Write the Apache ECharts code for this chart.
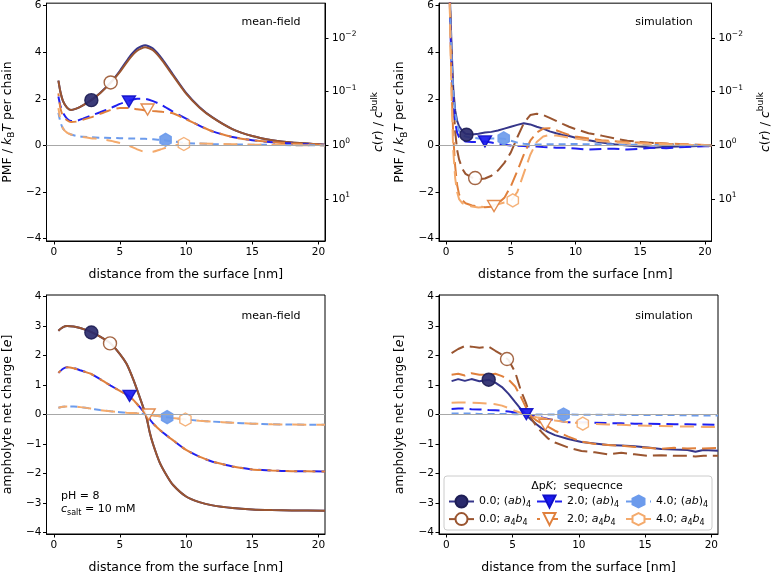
<!DOCTYPE html>
<html>
<head>
<meta charset="utf-8">
<script src="https://cdn.jsdelivr.net/npm/echarts@6/dist/echarts.min.js"></script>
<style>
html, body { margin: 0; padding: 0; background: #fff; }
#chart { width: 773px; height: 575px; }
</style>
</head>
<body>
<div id="chart"></div>
<script>
const FONT = 'DejaVu Sans';

const seriesNames = ['0.0; (ab)4', '0.0; a4b4', '2.0; (ab)4', '2.0; a4b4', '4.0; (ab)4', '4.0; a4b4'];
const xTicks = [0, 5, 10, 15, 20];
const pmfTicks = [-4, -2, 0, 2, 4, 6];
const chargeTicks = [-4, -3, -2, -1, 0, 1, 2, 3, 4];
const ratioTicks = [1e-2, 1e-1, 1, 10];

// PMF, mean-field
const pmfMfX = [0.35, 0.5, 0.7, 1.0, 1.3, 1.7, 2.2, 2.8, 3.5, 4.3, 5.0, 5.7, 6.3, 6.9, 7.5, 8.2, 9.0, 10.0, 11.0, 12.0, 13.5, 15.0, 16.5, 18.0, 20.5];
const pmfMf0ab = [2.78, 2.3, 1.9, 1.62, 1.52, 1.58, 1.72, 1.93, 2.25, 2.7, 3.2, 3.78, 4.15, 4.3, 4.15, 3.7, 3.05, 2.25, 1.65, 1.2, 0.7, 0.4, 0.22, 0.12, 0.03];
const pmfMf0a4b4 = [2.78, 2.3, 1.9, 1.62, 1.52, 1.58, 1.72, 1.93, 2.24, 2.68, 3.15, 3.7, 4.06, 4.21, 4.08, 3.64, 3.0, 2.22, 1.63, 1.19, 0.7, 0.4, 0.22, 0.12, 0.03];
const pmfMf2ab = [2.1, 1.7, 1.4, 1.15, 1.05, 1.05, 1.15, 1.28, 1.42, 1.6, 1.78, 1.92, 2.0, 2.0, 1.9, 1.72, 1.45, 1.15, 0.85, 0.6, 0.36, 0.22, 0.14, 0.08, 0.02];
const pmfMf2a4b4 = [2.23, 1.6, 1.25, 1.08, 1.0, 1.02, 1.1, 1.2, 1.35, 1.52, 1.6, 1.6, 1.55, 1.5, 1.47, 1.44, 1.38, 1.12, 0.85, 0.6, 0.36, 0.22, 0.14, 0.08, 0.02];
const pmfMf4ab = [1.4, 1.0, 0.72, 0.56, 0.47, 0.41, 0.37, 0.35, 0.33, 0.32, 0.31, 0.3, 0.29, 0.28, 0.26, 0.23, 0.17, 0.1, 0.08, 0.06, 0.04, 0.03, 0.02, 0.01, 0.0];
const pmfMf4a4b4 = [1.6, 1.1, 0.72, 0.55, 0.47, 0.42, 0.36, 0.31, 0.27, 0.2, 0.1, -0.02, -0.17, -0.28, -0.27, -0.15, -0.02, 0.07, 0.08, 0.07, 0.05, 0.03, 0.02, 0.01, 0.0];
const pmfMfMarkers = [[2.84, 1.94], [4.3, 2.7], [5.68, 1.88], [7.09, 1.54], [8.45, 0.24], [9.83, 0.06]];

// PMF, simulation
const pmfSimX = [0.25, 0.35, 0.45, 0.55, 0.7, 0.85, 1.0, 1.25, 1.5, 2.0, 2.5, 3.0, 3.5, 4.0, 4.5, 5.0, 5.5, 6.0, 6.5, 7.0, 7.5, 8.0, 8.5, 9.0, 9.5, 10, 11, 12, 13, 14, 15, 16, 17, 18, 19, 20, 20.5];
const pmfSim0ab = [7.0, 5.4, 3.8, 2.45, 1.5, 1.05, 0.82, 0.62, 0.5, 0.47, 0.5, 0.55, 0.58, 0.64, 0.72, 0.8, 0.88, 0.95, 0.9, 0.8, 0.72, 0.6, 0.52, 0.45, 0.4, 0.33, 0.22, 0.12, 0.05, 0.0, -0.05, -0.1, -0.06, -0.05, -0.04, -0.01, 0.0];
const pmfSim0a4b4 = [7.5, 5.0, 3.4, 2.0, 0.6, -0.2, -0.6, -1.0, -1.22, -1.38, -1.45, -1.42, -1.3, -1.08, -0.75, -0.3, 0.35, 0.95, 1.3, 1.36, 1.3, 1.18, 1.05, 0.92, 0.8, 0.7, 0.52, 0.42, 0.3, 0.2, 0.15, 0.1, 0.07, 0.04, 0.02, 0.0, 0.0];
const pmfSim2ab = [7.0, 4.6, 3.0, 1.9, 1.0, 0.55, 0.35, 0.22, 0.17, 0.15, 0.15, 0.17, 0.12, 0.07, 0.03, 0.0, -0.02, -0.03, -0.05, -0.05, -0.07, -0.08, -0.1, -0.1, -0.11, -0.13, -0.18, -0.15, -0.14, -0.18, -0.14, -0.1, -0.12, -0.08, -0.06, -0.04, -0.03];
const pmfSim2a4b4 = [7.0, 4.2, 2.0, 0.4, -0.9, -1.7, -2.1, -2.35, -2.48, -2.58, -2.62, -2.65, -2.63, -2.5, -2.25, -1.75, -1.1, -0.4, 0.2, 0.55, 0.72, 0.74, 0.65, 0.55, 0.45, 0.38, 0.3, 0.22, 0.18, 0.13, 0.12, 0.1, 0.08, 0.06, 0.04, 0.02, 0.0];
const pmfSim4ab = [7.0, 5.0, 3.4, 2.3, 1.4, 0.9, 0.62, 0.45, 0.38, 0.33, 0.3, 0.3, 0.3, 0.3, 0.28, 0.2, 0.12, 0.07, 0.05, 0.04, 0.04, 0.05, 0.05, 0.05, 0.06, 0.06, 0.05, 0.05, 0.04, 0.03, 0.03, 0.02, 0.02, 0.01, 0.01, 0.0, 0.0];
const pmfSim4a4b4 = [7.0, 4.0, 1.5, -0.2, -1.4, -2.0, -2.3, -2.48, -2.55, -2.62, -2.66, -2.64, -2.58, -2.52, -2.45, -2.38, -2.0, -1.2, -0.4, 0.15, 0.38, 0.45, 0.42, 0.38, 0.33, 0.3, 0.22, 0.18, 0.14, 0.1, 0.08, 0.06, 0.05, 0.04, 0.02, 0.01, 0.0];
const pmfSimMarkers = [[1.57, 0.46], [2.24, -1.4], [3.0, 0.17], [3.7, -2.6], [4.45, 0.3], [5.15, -2.36]];

// net charge, mean-field (both sequences coincide)
const chargeMfX = [0.35, 0.7, 1.0, 1.5, 2.0, 2.8, 3.5, 4.3, 5.0, 5.5, 6.0, 6.5, 7.0, 7.25, 7.5, 8.0, 8.5, 9.0, 10.0, 11.0, 12.0, 13.5, 15.0, 16.5, 18.0, 20.5];
const chargeMf0 = [2.84, 2.96, 3.0, 2.98, 2.93, 2.8, 2.64, 2.41, 2.05, 1.72, 1.2, 0.58, -0.08, -0.6, -1.0, -1.62, -2.04, -2.38, -2.78, -2.97, -3.08, -3.17, -3.22, -3.24, -3.25, -3.26];
const chargeMf2 = [1.41, 1.55, 1.6, 1.57, 1.5, 1.38, 1.2, 0.98, 0.8, 0.68, 0.5, 0.25, -0.02, -0.16, -0.3, -0.52, -0.7, -0.87, -1.2, -1.43, -1.6, -1.76, -1.86, -1.9, -1.92, -1.93];
const chargeMf4 = [0.23, 0.26, 0.27, 0.27, 0.25, 0.2, 0.15, 0.11, 0.08, 0.06, 0.05, 0.03, 0.0, -0.015, -0.03, -0.06, -0.09, -0.12, -0.17, -0.21, -0.24, -0.28, -0.31, -0.33, -0.34, -0.35];
const chargeMfMarkers = [[2.84, 2.78], [4.25, 2.41], [5.73, 0.63], [7.17, 0.0], [8.57, -0.09], [9.95, -0.17]];

// net charge, simulation
const chargeSimX = [0.4, 0.9, 1.4, 1.9, 2.5, 3.2, 3.7, 4.2, 4.7, 5.2, 5.6, 6.0, 6.4, 6.8, 7.2, 7.7, 8.2, 9.2, 10.2, 11.2, 12.2, 13.2, 14.2, 15.2, 16.2, 17.2, 18.2, 18.8, 19.4, 20.5];
const chargeSim0ab = [1.13, 1.2, 1.14, 1.2, 1.13, 1.18, 1.08, 0.93, 0.7, 0.42, 0.2, 0.0, -0.18, -0.33, -0.47, -0.6, -0.7, -0.83, -0.93, -0.98, -1.03, -1.05, -1.08, -1.12, -1.17, -1.19, -1.2, -1.26, -1.2, -1.23];
const chargeSim0a4b4 = [2.08, 2.22, 2.32, 2.3, 2.26, 2.3, 2.16, 2.03, 1.85, 1.43, 0.85, 0.4, -0.12, -0.4, -0.6, -0.82, -0.95, -1.12, -1.24, -1.28, -1.35, -1.3, -1.35, -1.4, -1.38, -1.4, -1.4, -1.42, -1.4, -1.4];
const chargeSim2ab = [0.19, 0.2, 0.2, 0.18, 0.17, 0.15, 0.14, 0.13, 0.1, 0.07, 0.04, 0.02, -0.03, -0.07, -0.1, -0.15, -0.2, -0.26, -0.27, -0.28, -0.29, -0.3, -0.31, -0.31, -0.32, -0.33, -0.33, -0.34, -0.34, -0.35];
const chargeSim2a4b4 = [1.35, 1.38, 1.32, 1.4, 1.35, 1.35, 1.38, 1.3, 1.18, 0.95, 0.62, 0.25, -0.05, -0.2, -0.3, -0.42, -0.55, -0.75, -0.92, -1.0, -1.03, -1.06, -1.1, -1.13, -1.16, -1.13, -1.15, -1.14, -1.15, -1.13];
const chargeSim4ab = [0.03, 0.03, 0.03, 0.03, 0.02, 0.02, 0.02, 0.02, 0.02, 0.01, 0.01, 0.01, 0.0, 0.0, 0.0, 0.0, 0.0, 0.0, -0.01, -0.01, -0.01, -0.01, -0.02, -0.02, -0.02, -0.02, -0.03, -0.03, -0.03, -0.03];
const chargeSim4a4b4 = [0.4, 0.41, 0.41, 0.4, 0.39, 0.37, 0.35, 0.3, 0.22, 0.12, 0.06, 0.0, -0.05, -0.09, -0.12, -0.16, -0.2, -0.26, -0.3, -0.32, -0.34, -0.35, -0.37, -0.38, -0.39, -0.4, -0.41, -0.41, -0.42, -0.42];
const chargeSimMarkers = [[3.2, 1.18], [4.58, 1.88], [6.04, 0.01], [7.47, -0.35], [8.85, 0.0], [10.3, -0.31]];

// styles
const lineColors = ['#36368a', '#9a5530', '#2020f0', '#e0803c', '#6c9bec', '#f4aa6c'];
const markFill = ['#2a2a6c', '#ffffff', '#1a1af0', '#ffffff', '#6c9bec', '#ffffff'];
const markEdge = ['#1e1e55', '#9a5530', '#1010c8', '#e0803c', '#6c9bec', '#f4aa6c'];
const tri = 'path://M0,0 L20,0 L10,17 Z';
const hex = 'path://M10,0 L18.66,5 L18.66,15 L10,20 L1.34,15 L1.34,5 Z';
const markSymbol = ['circle', 'circle', tri, tri, hex, hex];
const mfDash = ['solid', 'solid', [12, 6], [12, 6], [7, 5], [14, 10]];
const mfOffset = [0, 0, 0, 9, 0, 5];
const simDash = ['solid', [14, 6], [12, 6], [14, 6], [7, 5], [14, 7]];
const simOffset = [0, 0, 0, 0, 0, 0];

const tickStyle = { fontFamily: FONT, fontSize: 10.5, color: '#000' };
const minus = v => String(v).replace('-', '\u2212');

const series = [];

function addPanel(idx, xs, ysList, markers, dashes, offsets, smooth) {
  series.push({
    type: 'line', xAxisIndex: idx, yAxisIndex: idx, data: [], z: 1, silent: true,
    markLine: {
      silent: true, symbol: 'none', label: { show: false }, animation: false,
      lineStyle: { color: '#a8a8a8', width: 1.2, type: 'solid' },
      data: [{ yAxis: 0 }]
    }
  });
  ysList.forEach((ys, i) => {
    series.push({
      name: seriesNames[i], type: 'line', xAxisIndex: idx, yAxisIndex: idx,
      data: xs.map((x, k) => [x, ys[k]]),
      smooth: smooth ? 0.2 : false,
      symbol: markSymbol[i], symbolSize: 0, showSymbol: false,
      lineStyle: { color: lineColors[i], width: 2, type: dashes[i], dashOffset: offsets[i] },
      itemStyle: { color: markFill[i], borderColor: markEdge[i], borderWidth: 1.4 },
      z: 2
    });
  });
  markers.forEach((m, i) => {
    series.push({
      name: seriesNames[i], type: 'scatter', xAxisIndex: idx, yAxisIndex: idx,
      data: [m], symbol: markSymbol[i], symbolSize: 13, symbolKeepAspect: true,
      itemStyle: { color: markFill[i], borderColor: markEdge[i], borderWidth: 1.4, opacity: i % 2 ? 0.9 : 0.92 },
      z: 3
    });
  });
}

addPanel(0, pmfMfX, [pmfMf0ab, pmfMf0a4b4, pmfMf2ab, pmfMf2a4b4, pmfMf4ab, pmfMf4a4b4], pmfMfMarkers, mfDash, mfOffset, true);
addPanel(1, pmfSimX, [pmfSim0ab, pmfSim0a4b4, pmfSim2ab, pmfSim2a4b4, pmfSim4ab, pmfSim4a4b4], pmfSimMarkers, simDash, simOffset, false);
addPanel(2, chargeMfX, [chargeMf0, chargeMf0, chargeMf2, chargeMf2, chargeMf4, chargeMf4], chargeMfMarkers, mfDash, mfOffset, true);
addPanel(3, chargeSimX, [chargeSim0ab, chargeSim0a4b4, chargeSim2ab, chargeSim2a4b4, chargeSim4ab, chargeSim4a4b4], chargeSimMarkers, simDash, simOffset, false);

const grids = [
  { left: 46, top: 3, width: 279, height: 238 },
  { left: 439, top: 3, width: 279, height: 238 },
  { left: 46, top: 295, width: 279, height: 240 },
  { left: 439, top: 295, width: 279, height: 240 }
].map(g => Object.assign({ show: true, borderColor: '#000', borderWidth: 1, backgroundColor: 'transparent' }, g));

const axisLine = { show: true, onZero: false, lineStyle: { color: '#000', width: 1 } };
const nameRich = {
  n: { fontFamily: FONT, fontSize: 12.5, lineHeight: 18 },
  i: { fontFamily: FONT, fontSize: 12.5, fontStyle: 'italic', lineHeight: 18 },
  sub: { fontFamily: FONT, fontSize: 9, verticalAlign: 'bottom', lineHeight: 12 },
  sup: { fontFamily: FONT, fontSize: 9, verticalAlign: 'top', lineHeight: 12 }
};

const xAxes = [0, 1, 2, 3].map(i => ({
  type: 'value', gridIndex: i, min: -0.55, max: 20.5,
  name: 'distance from the surface [nm]', nameLocation: 'middle', nameGap: 27,
  nameTextStyle: { fontFamily: FONT, fontSize: 12.5, color: '#000' },
  axisLine: axisLine, splitLine: { show: false },
  axisTick: { show: true, length: 3.5, customValues: xTicks, lineStyle: { color: '#000' } },
  axisLabel: Object.assign({ customValues: xTicks, margin: 6, formatter: minus }, tickStyle)
}));

function leftY(i, min, max, ticks, name) {
  return {
    type: 'value', gridIndex: i, min: min, max: max, position: 'left',
    name: name, nameLocation: 'middle', nameGap: 30, nameRotate: 90,
    nameTextStyle: { fontFamily: FONT, fontSize: 12.5, color: '#000', rich: nameRich },
    axisLine: axisLine, splitLine: { show: false },
    axisTick: { show: true, length: 3.5, customValues: ticks, lineStyle: { color: '#000' } },
    axisLabel: Object.assign({ customValues: ticks, margin: 5, formatter: minus }, tickStyle)
  };
}

function rightY(i) {
  const pos = ratioTicks.map(v => -Math.log(v));
  return {
    type: 'value', gridIndex: i, min: -4.1, max: 6.1, position: 'right',
    name: '{i|c}{n|(}{i|r}{n|) / }{i|c}{sup|bulk}', nameLocation: 'middle', nameGap: 45, nameRotate: 90,
    nameTextStyle: { fontFamily: FONT, fontSize: 12.5, color: '#000', rich: nameRich },
    axisLine: axisLine, splitLine: { show: false },
    axisTick: { show: true, length: 3.5, customValues: pos, lineStyle: { color: '#000' } },
    axisLabel: Object.assign({
      customValues: pos, margin: 7,
      formatter: v => {
        const e = Math.round(-v / Math.LN10);
        return '{b|10}{p|' + minus(e) + '}';
      },
      rich: {
        b: { fontFamily: FONT, fontSize: 10.5, lineHeight: 16, color: '#000' },
        p: { fontFamily: FONT, fontSize: 7.5, verticalAlign: 'top', lineHeight: 10, color: '#000' }
      }
    }, tickStyle)
  };
}

const pmfName = '{n|PMF / }{i|k}{sub|B}{i|T}{n| per chain}';
const chargeName = '{n|ampholyte net charge [}{i|e}{n|]}';
const yAxes = [
  leftY(0, -4.1, 6.1, pmfTicks, pmfName),
  leftY(1, -4.1, 6.1, pmfTicks, pmfName),
  leftY(2, -4.05, 4.05, chargeTicks, chargeName),
  leftY(3, -4.05, 4.05, chargeTicks, chargeName),
  rightY(0),
  rightY(1)
];

function legendLabel(name) {
  const parts = name.split('; ');
  const seq = parts[1] === '(ab)4' ? '({i|ab}){s|4}' : '{i|a}{s|4}{i|b}{s|4}';
  return parts[0] + '; ' + seq;
}
const legendText = {
  fontFamily: FONT, fontSize: 11, color: '#000', lineHeight: 15,
  rich: {
    i: { fontFamily: FONT, fontSize: 11, fontStyle: 'italic', lineHeight: 15 },
    s: { fontFamily: FONT, fontSize: 8, verticalAlign: 'bottom', lineHeight: 10 }
  }
};
const legendCols = [[seriesNames[0], seriesNames[1]], [seriesNames[2], seriesNames[3]], [seriesNames[4], seriesNames[5]]];
const legendLeft = [448, 536, 625];
const legends = legendCols.map((d, k) => ({
  data: d, orient: 'vertical', left: legendLeft[k], top: 494, itemWidth: 25, itemHeight: 15,
  itemGap: 2.6, padding: 0, selectedMode: false, formatter: legendLabel, textStyle: legendText
}));

const graphic = [
  { type: 'rect', z: 3, shape: { x: 444, y: 476, width: 268, height: 54, r: 3 },
    style: { fill: 'rgba(255,255,255,0.85)', stroke: '#cccccc', lineWidth: 1 } },
  { type: 'text', z: 5, style: { x: 577, y: 486, text: '{n|\u0394p}{i|K}{n|;  sequecnce}', align: 'center', verticalAlign: 'middle',
    rich: { n: { fontFamily: FONT, fontSize: 11, fill: '#000' }, i: { fontFamily: FONT, fontSize: 11, fontStyle: 'italic', fill: '#000' } } } },
  { type: 'text', style: { x: 271, y: 22, text: 'mean-field', align: 'center', verticalAlign: 'middle', font: '11px "DejaVu Sans"', fill: '#000' } },
  { type: 'text', style: { x: 664, y: 22, text: 'simulation', align: 'center', verticalAlign: 'middle', font: '11px "DejaVu Sans"', fill: '#000' } },
  { type: 'text', style: { x: 271, y: 316, text: 'mean-field', align: 'center', verticalAlign: 'middle', font: '11px "DejaVu Sans"', fill: '#000' } },
  { type: 'text', style: { x: 664, y: 316, text: 'simulation', align: 'center', verticalAlign: 'middle', font: '11px "DejaVu Sans"', fill: '#000' } },
  { type: 'text', style: { x: 61, y: 496, text: 'pH = 8', verticalAlign: 'middle', font: '11px "DejaVu Sans"', fill: '#000' } },
  { type: 'text', style: { x: 61, y: 509, text: '{i|c}{s|salt}{n| = 10 mM}', verticalAlign: 'middle',
    rich: { n: { fontFamily: FONT, fontSize: 11, fill: '#000', lineHeight: 15 },
            i: { fontFamily: FONT, fontSize: 11, fontStyle: 'italic', fill: '#000', lineHeight: 15 },
            s: { fontFamily: FONT, fontSize: 8, fill: '#000', verticalAlign: 'bottom', lineHeight: 10 } } } }
];

const chart = echarts.init(document.getElementById('chart'), null, { renderer: 'canvas' });
chart.setOption({
  animation: false,
  backgroundColor: '#fff',
  grid: grids,
  xAxis: xAxes,
  yAxis: yAxes,
  legend: legends,
  graphic: graphic,
  series: series
});
</script>
</body>
</html>
